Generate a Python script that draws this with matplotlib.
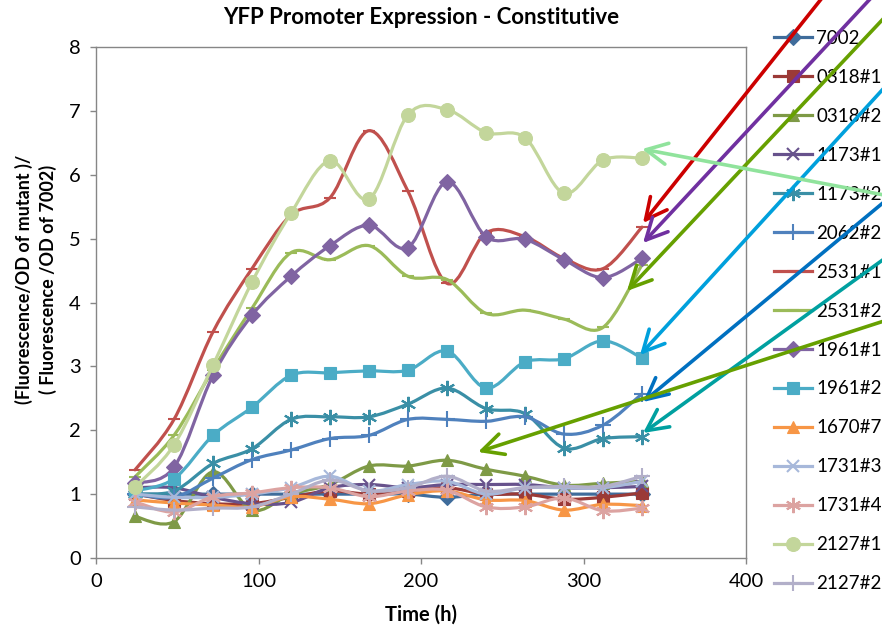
import numpy as np
import matplotlib
matplotlib.use("Agg")
import matplotlib.pyplot as plt
from matplotlib.path import Path
from matplotlib.patches import PathPatch
from matplotlib.lines import Line2D

plt.rcParams["font.family"] = ["Lato", "DejaVu Sans"]

hours = [24, 48, 72, 96, 120, 144, 168, 192, 216, 240, 264, 288, 312, 336]

s7002 = [1.0, 1.0, 1.0, 1.0, 1.0, 1.0, 1.0, 1.0, 0.95, 1.0, 1.0, 1.0, 1.0, 1.0]
s0318_1 = [1.0, 0.9, 0.85, 0.85, 0.95, 1.05, 1.0, 1.05, 1.1, 1.0, 1.0, 0.92, 0.95, 1.02]
s0318_2 = [0.65, 0.57, 1.35, 0.75, 1.0, 1.15, 1.44, 1.44, 1.53, 1.39, 1.28, 1.14, 1.17, 1.2]
s1173_1 = [1.1, 1.1, 0.95, 0.85, 0.87, 1.1, 1.15, 1.1, 1.15, 1.15, 1.15, 1.1, 1.1, 1.12]
s1173_2 = [1.0, 1.05, 1.48, 1.71, 2.17, 2.21, 2.21, 2.41, 2.66, 2.34, 2.26, 1.72, 1.87, 1.90]
s2062_2 = [1.0, 0.95, 1.25, 1.54, 1.69, 1.87, 1.92, 2.17, 2.17, 2.14, 2.21, 1.94, 2.08, 2.57]
s2531_1 = [1.38, 2.17, 3.54, 4.53, 5.37, 5.64, 6.69, 5.74, 4.30, 5.09, 5.03, 4.69, 4.53, 5.18]
s2531_2 = [1.27, 1.92, 2.95, 3.91, 4.78, 4.67, 4.89, 4.41, 4.36, 3.83, 3.88, 3.74, 3.61, 4.59]
s1961_1 = [1.17, 1.42, 2.86, 3.80, 4.41, 4.89, 5.21, 4.86, 5.89, 5.03, 4.99, 4.67, 4.39, 4.69]
s1961_2 = [1.05, 1.24, 1.92, 2.36, 2.86, 2.90, 2.93, 2.94, 3.24, 2.66, 3.07, 3.12, 3.40, 3.13]
s1670_7 = [0.91, 0.86, 0.83, 0.80, 0.96, 0.92, 0.85, 0.99, 1.05, 0.91, 0.90, 0.75, 0.84, 0.82]
s1731_3 = [1.0, 0.95, 0.95, 1.0, 1.1, 1.28, 1.05, 1.15, 1.2, 1.0, 1.1, 1.1, 1.1, 1.2]
s1731_4 = [0.88, 0.72, 0.96, 1.02, 1.1, 1.1, 0.96, 1.05, 1.06, 0.8, 0.8, 0.94, 0.74, 0.78]
s2127_1 = [1.11, 1.77, 3.02, 4.32, 5.40, 6.22, 5.62, 6.94, 7.02, 6.66, 6.58, 5.71, 6.23, 6.26]
s2127_2 = [0.8, 0.75, 0.78, 0.8, 1.0, 1.22, 1.05, 1.1, 1.28, 1.05, 1.1, 1.12, 1.12, 1.28]

labels = ["7002", "0318#1", "0318#2", "1173#1", "1173#2", "2062#2", "2531#1",
          "2531#2", "1961#1", "1961#2", "1670#7", "1731#3", "1731#4",
          "2127#1", "2127#2"]
series = [s7002, s0318_1, s0318_2, s1173_1, s1173_2, s2062_2, s2531_1,
          s2531_2, s1961_1, s1961_2, s1670_7, s1731_3, s1731_4, s2127_1, s2127_2]

colors = ["#3F6C9B", "#9B3A37", "#7E9A46", "#67528C", "#3A8FA6", "#4F81BD",
          "#C0504D", "#9BBB59", "#8064A2", "#4BACC6", "#F79646", "#A7B8DA",
          "#DCA3A1", "#C3D69B", "#B2AFC9"]
STAR = (6, 2, 0)
markers = ["D", "s", "^", "x", STAR, "+", "_", "_", "D", "s", "^", "x", STAR, "o", "+"]
msizes = [8, 9, 9, 9, 11, 11, 8, 8, 8, 9, 9, 9, 11, 10, 11]


def smooth_path(x, y):
    # Excel-style smoothed line: Catmull-Rom segments as cubic Beziers
    pts = np.column_stack([x, y]).astype(float)
    n = len(pts)
    verts = [pts[0]]
    codes = [Path.MOVETO]
    for i in range(n - 1):
        p0 = pts[i - 1] if i > 0 else pts[i]
        p1, p2 = pts[i], pts[i + 1]
        p3 = pts[i + 2] if i + 2 < n else pts[i + 1]
        verts += [p1 + (p2 - p0) / 6, p2 - (p3 - p1) / 6, p2]
        codes += [Path.CURVE4] * 3
    return Path(verts, codes)


fig = plt.figure(figsize=(8.82, 6.29), dpi=100)
ax = fig.add_axes([96 / 882, 71 / 629, 650 / 882, 511 / 629])

handles = []
for k, (lab, vals, c, m, ms) in enumerate(zip(labels, series, colors, markers, msizes)):
    z = 2 + k * 0.1
    ax.add_patch(PathPatch(smooth_path(hours, vals), facecolor="none", edgecolor=c,
                           lw=2.3, capstyle="round", joinstyle="round", zorder=z))
    mew = 1.5 if m in ("x", "+", "_", STAR) else 0.8
    ax.plot(hours, vals, ls="none", marker=m, ms=ms, color=c, mec=c, mew=mew, zorder=z + 0.05)
    handles.append(Line2D([], [], color=c, lw=2.3, marker=m, ms=ms, mec=c, mew=mew))

ax.set_xlim(0, 400)
ax.set_ylim(0, 8)
ax.set_xticks([0, 100, 200, 300, 400])
ax.set_yticks(range(0, 9))
for sp in ax.spines.values():
    sp.set_color("#868686")
    sp.set_linewidth(1)
ax.tick_params(direction="out", length=4, width=1, color="#868686", labelsize=14.5, pad=7)

fig.text(421 / 882, 1 - 18 / 629, "YFP Promoter Expression - Constitutive",
         ha="center", va="center", fontsize=16, fontweight="bold")
fig.text(421 / 882, 1 - 615 / 629, "Time (h)", ha="center", va="center",
         fontsize=14.5, fontweight="bold")
fig.text(36 / 882, 1 - 279 / 629, "(Fluorescence/OD of mutant )/\n( Fluorescence /OD of 7002)",
         rotation=90, ha="center", va="center", multialignment="center",
         fontsize=13, fontweight="bold", linespacing=1.35)

leg = ax.legend(handles, labels, loc="upper left", bbox_to_anchor=(774 / 882, 1 - 30 / 629),
                bbox_transform=fig.transFigure, frameon=False, fontsize=13.5,
                handlelength=2.0, handletextpad=0.25, labelspacing=1.17, borderpad=0,
                borderaxespad=0)
leg.set_zorder(5)

# hand-drawn annotation arrows (tail -> tip, image pixel coords from top)
arrows = [
    ("#CC0000", (822, -2), (643, 223)),
    ("#7030A0", (871, -2), (643, 243)),
    ("#66A000", (884, 18), (627, 291)),
    ("#00A0DC", (884, 88), (640, 355)),
    ("#90E39C", (884, 195), (642, 149)),
    ("#0070C0", (884, 202), (643, 402)),
    ("#00A0A0", (884, 259), (643, 433)),
    ("#66A000", (884, 321), (478, 452)),
]
for c, tail, tip in arrows:
    ax.annotate("", xy=(tip[0], 629 - tip[1]), xycoords="figure pixels",
                xytext=(tail[0], 629 - tail[1]), textcoords="figure pixels",
                arrowprops=dict(arrowstyle="->,head_length=0.9,head_width=0.45", color=c,
                                lw=2.6, mutation_scale=17, shrinkA=0, shrinkB=0),
                annotation_clip=False, zorder=10)

fig.savefig("out.png", dpi=100)
